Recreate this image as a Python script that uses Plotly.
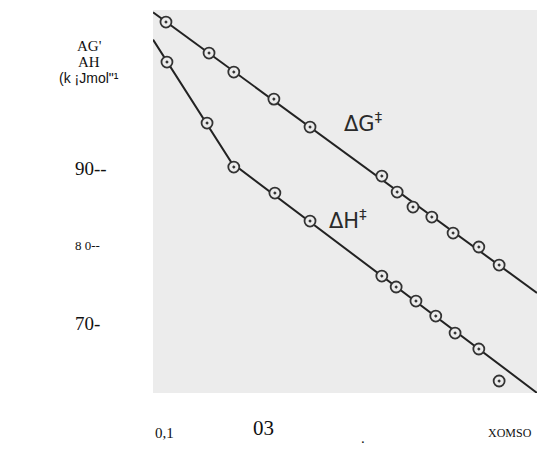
import numpy as np
import plotly.graph_objects as go

# mole fraction of DMSO
x_g = [0.102, 0.189, 0.239, 0.320, 0.393, 0.538, 0.569, 0.601, 0.639, 0.682, 0.734, 0.775]
dG = [108.84, 104.84, 102.39, 98.90, 95.29, 88.97, 86.90, 84.97, 83.68, 81.61, 79.81, 77.48]

x_h = [0.104, 0.185, 0.239, 0.322, 0.393, 0.538, 0.567, 0.607, 0.647, 0.686, 0.734, 0.775]
dH = [103.68, 95.81, 90.13, 86.77, 83.16, 76.06, 74.65, 72.84, 70.90, 68.71, 66.65, 62.52]

y_tick_vals = [90, 80, 70]
y_tick_text = ["90--", "8 0--", "70-"]
y_tick_sizes = [19, 13, 19]

x_tick_vals = [0.1, 0.3, 0.5]
x_tick_text = ["0,1", "03", "."]
x_tick_sizes = [15, 21, 15]
x_title = "XOMSO"
y_title = ["AG'", "AH", "(k ¡Jmol\"¹"]

XR = [0.0758, 0.8515]
YR = [60.97, 110.4]
BG = "#ececec"

fig = go.Figure()

# fitted line for ΔG
pg = np.polyfit(x_g, dG, 1)
lx = np.array(XR)
fig.add_trace(go.Scatter(x=lx, y=np.polyval(pg, lx), mode="lines",
                         line=dict(color="#222222", width=2), hoverinfo="skip"))

# two-segment line for ΔH (outlier last point excluded)
p1 = np.polyfit(x_h[0:3], dH[0:3], 1)
p2 = np.polyfit(x_h[2:11], dH[2:11], 1)
xi = (p2[1] - p1[1]) / (p1[0] - p2[0])
hx = np.array([XR[0], xi, XR[1]])
hy = np.array([np.polyval(p1, XR[0]), np.polyval(p1, xi), np.polyval(p2, XR[1])])
fig.add_trace(go.Scatter(x=hx, y=hy, mode="lines",
                         line=dict(color="#222222", width=2), hoverinfo="skip"))

mk = dict(symbol="circle-dot", size=11, color=BG, line=dict(width=1.8, color="#333333"))
fig.add_trace(go.Scatter(x=x_g, y=dG, mode="markers", marker=mk))
fig.add_trace(go.Scatter(x=x_h, y=dH, mode="markers", marker=mk))

ann = []
for v, t, s in zip(y_tick_vals, y_tick_text, y_tick_sizes):
    ann.append(dict(x=-0.208, xref="paper", y=v, yref="y", text=t, showarrow=False,
                    xanchor="left", yanchor="middle",
                    font=dict(family="Liberation Serif", size=s, color="#111")))
for v, t, s, yp in zip(x_tick_vals, x_tick_text, x_tick_sizes, [-0.104, -0.091, -0.118]):
    ann.append(dict(x=v, xref="x", y=yp, yref="paper", text=t, showarrow=False,
                    xanchor="center", yanchor="middle",
                    font=dict(family="Liberation Serif", size=s, color="#111")))
ann.append(dict(x=0.797, xref="x", y=-0.104, yref="paper", text=x_title, showarrow=False,
                xanchor="center", yanchor="middle",
                font=dict(family="Liberation Serif", size=12, color="#111")))
for t, yp, fam, s in zip(y_title, [0.906, 0.864, 0.822],
                         ["Liberation Serif", "Liberation Serif", "Liberation Sans"], [15, 15, 14]):
    ann.append(dict(x=-0.166, xref="paper", y=yp, yref="paper", text=t, showarrow=False,
                    xanchor="center", yanchor="middle",
                    font=dict(family=fam, size=s, color="#111")))

ann.append(dict(x=0.4576, xref="x", y=95.9, yref="y", text="ΔG<sup>‡</sup>", showarrow=False,
                xanchor="left", yanchor="middle",
                font=dict(family="DejaVu Sans", size=21, color="#2a2a2a")))
ann.append(dict(x=0.427, xref="x", y=83.4, yref="y", text="ΔH<sup>‡</sup>", showarrow=False,
                xanchor="left", yanchor="middle",
                font=dict(family="DejaVu Sans", size=21, color="#2a2a2a")))

fig.update_layout(
    width=553, height=455,
    margin=dict(l=153, r=16, t=10, b=62),
    paper_bgcolor="white", plot_bgcolor=BG,
    showlegend=False, annotations=ann,
    xaxis=dict(range=XR, showgrid=False, zeroline=False, showticklabels=False, showline=False, ticks=""),
    yaxis=dict(range=YR, showgrid=False, zeroline=False, showticklabels=False, showline=False, ticks=""),
)

fig.write_html("out.html")
